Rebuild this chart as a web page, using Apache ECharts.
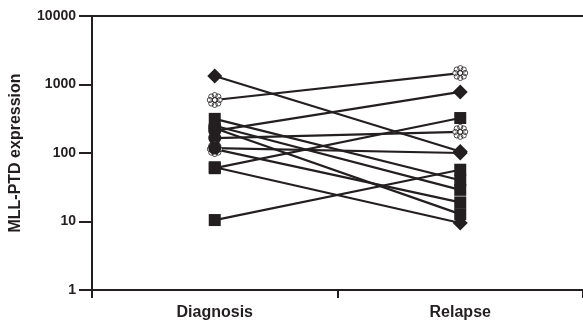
<!DOCTYPE html>
<html><head><meta charset="utf-8">
<script src="https://cdn.jsdelivr.net/npm/echarts@6/dist/echarts.min.js"></script>
<style>html,body{margin:0;padding:0;background:#fff}#c{width:583px;height:324px}</style>
</head><body><div id="c"></div>
<script>
const categories = ['Diagnosis', 'Relapse'];
const yTicks = [1, 10, 100, 1000, 10000];
const diagnosis = [594, 1330, 210, 60, 165, 10.5, 315, 230, 114, 62, 118, 250];
const relapse   = [1470, 105, 780, 324, 203, 57, 40, 12.8, 19, 9.5, 100, 29];
const diagSymbols = ['flower','diamond','circle','square','circle','square','square','circle','flower','square','circle','circle'];
const relSymbols  = ['flower','diamond','diamond','square','flower','square','square','square','square','diamond','diamond','square'];

const INK = '#231f20';
const FONT = "'Liberation Sans', Arial, sans-serif";
function flowerPath() {
  let p = '';
  const n = 8, R = 6, r = 3.2;
  for (let i = 0; i < n; i++) {
    const a = i * 2 * Math.PI / n;
    const cx = 10 + R * Math.cos(a), cy = 10 + R * Math.sin(a);
    p += `M${(cx + r).toFixed(2)} ${cy.toFixed(2)} A${r} ${r} 0 1 0 ${(cx - r).toFixed(2)} ${cy.toFixed(2)} A${r} ${r} 0 1 0 ${(cx + r).toFixed(2)} ${cy.toFixed(2)} Z `;
  }
  p += 'M13 10 A3 3 0 1 0 7 10 A3 3 0 1 0 13 10 Z';
  return 'path://' + p;
}
const FLOWER = flowerPath();
function item(v, s) {
  const base = { value: v };
  if (s === 'flower') {
    base.symbol = FLOWER; base.symbolSize = 15;
    base.itemStyle = { color: '#fff', borderColor: INK, borderWidth: 0.8 };
  } else if (s === 'diamond') {
    base.symbol = 'diamond'; base.symbolSize = 15;
  } else if (s === 'square') {
    base.symbol = 'rect'; base.symbolSize = 12;
  } else {
    base.symbol = 'circle'; base.symbolSize = 13;
  }
  return base;
}
const series = diagnosis.map((d, i) => ({
  type: 'line',
  data: [item(d, diagSymbols[i]), item(relapse[i], relSymbols[i])],
  lineStyle: { color: INK, width: 2.2 },
  itemStyle: { color: INK },
  z: 2,
  animation: false
}));

const chart = echarts.init(document.getElementById('c'), null, { renderer: 'canvas' });
chart.setOption({
  animation: false,
  grid: { left: 91, right: -1, top: 16, bottom: 34, containLabel: false },
  xAxis: [{
    type: 'category', data: categories, boundaryGap: true,
    axisLine: { lineStyle: { color: INK, width: 2 } },
    axisTick: { show: true, length: 8, lineStyle: { color: INK, width: 2 } },
    axisLabel: { color: INK, fontFamily: FONT, fontWeight: 'bold', fontSize: 16, margin: 15 }
  }, {
    type: 'category', data: categories, position: 'top',
    axisLine: { show: true, lineStyle: { color: INK, width: 2 } },
    axisTick: { show: false }, axisLabel: { show: false }
  }],
  yAxis: {
    type: 'log', logBase: 10, min: 1, max: 10000,
    name: 'MLL-PTD expression', nameLocation: 'middle', nameGap: 68,
    nameTextStyle: { color: INK, fontFamily: FONT, fontWeight: 'bold', fontSize: 16 },
    axisLine: { show: true, lineStyle: { color: INK, width: 2 } },
    axisTick: { show: true, length: 13, lineStyle: { color: INK, width: 2 } },
    axisLabel: { color: INK, fontFamily: FONT, fontWeight: 'bold', fontSize: 14, margin: 16,
      formatter: v => yTicks.includes(Math.round(v)) ? String(Math.round(v)) : '' },
    splitLine: { show: false }
  },
  series: series
});
</script></body></html>
